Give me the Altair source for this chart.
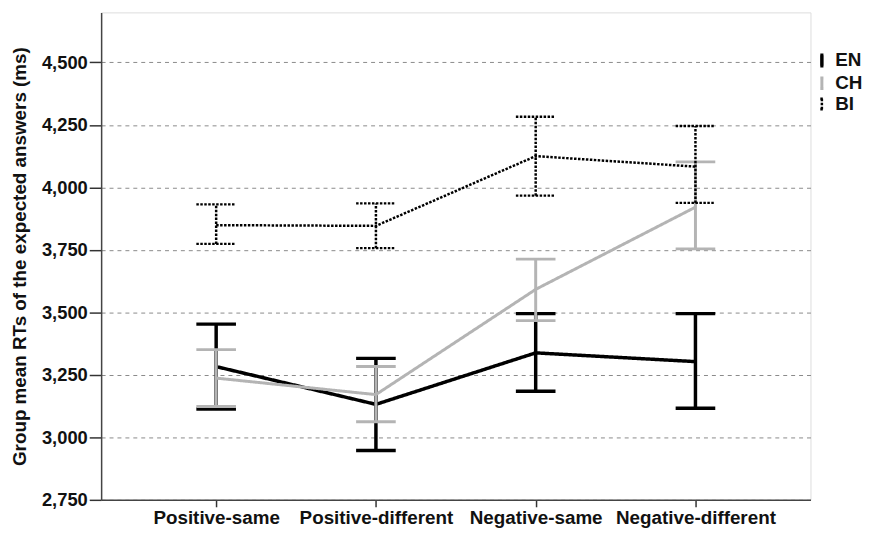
import altair as alt
import pandas as pd

conditions = ["Positive-same", "Positive-different", "Negative-same", "Negative-different"]
groups = ["EN", "CH", "BI"]

en_mean = [3283, 3132, 3338, 3303]
en_lo = [3113, 2947, 3184, 3116]
en_hi = [3453, 3316, 3495, 3495]

ch_mean = [3237, 3171, 3592, 3921]
ch_lo = [3123, 3062, 3467, 3754]
ch_hi = [3351, 3283, 3713, 4102]

bi_mean = [3849, 3846, 4125, 4083]
bi_lo = [3774, 3757, 3967, 3938]
bi_hi = [3932, 3936, 4283, 4246]

y_ticks = [2750, 3000, 3250, 3500, 3750, 4000, 4250, 4500]

series = {
    "EN": (en_mean, en_lo, en_hi),
    "CH": (ch_mean, ch_lo, ch_hi),
    "BI": (bi_mean, bi_lo, bi_hi),
}
rows = []
for g in groups:
    m, lo, hi = series[g]
    for i, c in enumerate(conditions):
        rows.append({"cond": c, "group": g, "mean": m[i], "lo": lo[i], "hi": hi[i]})
df = pd.DataFrame(rows)

FONT = "Liberation Sans"

x_enc = alt.X(
    "cond:N",
    sort=conditions,
    scale=alt.Scale(type="point", padding=0.72),
    axis=alt.Axis(title=None, labelAngle=0, labelFontSize=19, labelFontWeight="bold",
                  labelColor="#111",
                  tickSize=7, tickColor="#333", tickWidth=1.5,
                  domainColor="#444", domainWidth=1.5, labelPadding=2, grid=False),
)
y_scale = alt.Scale(domain=[2750, 4700], nice=False, zero=False)
y_axis = alt.Axis(
    title="Group mean RTs of the expected answers (ms)",
    values=y_ticks, format=",.0f", labelFontSize=18.5, labelFontWeight="bold",
    labelColor="#111",
    titleFontSize=19, titleFontWeight="bold", titleColor="#111", titlePadding=12,
    tickSize=12, tickColor="#333", tickWidth=1.5, labelPadding=2,
    domainColor="#444", domainWidth=1.5,
    grid=True, gridDash=[4, 4], gridColor="#8a8a8a", gridWidth=1,
)
color_enc = alt.Color(
    "group:N",
    scale=alt.Scale(domain=groups, range=["#000000", "#b4b4b4", "#000000"]),
    legend=alt.Legend(
        title=None, orient="none", legendX=718, legendY=39,
        symbolType="M-0.3,-1H0.3M0,-1V1M-0.3,1H0.3",
        symbolSize=110, symbolStrokeWidth=3, symbolFillColor="transparent",
        labelFontSize=19, labelFontWeight="bold", labelColor="#111",
        rowPadding=-1, labelOffset=4,
    ),
)
dash_enc = alt.StrokeDash(
    "group:N",
    scale=alt.Scale(domain=groups, range=[[1, 0], [1, 0], [2.5, 1.5]]),
    legend=alt.Legend(title=None),
)
width_enc = alt.StrokeWidth(
    "group:N",
    scale=alt.Scale(domain=groups, range=[3.5, 2.5, 3.5]),
    legend=None,
)

layers = []
for g in groups:
    base = alt.Chart(df).transform_filter(alt.datum.group == g)
    line = base.mark_line().encode(
        x=x_enc, y=alt.Y("mean:Q", scale=y_scale, axis=y_axis),
        color=color_enc, strokeDash=dash_enc, strokeWidth=width_enc,
    )
    bar = base.mark_rule().encode(
        x=x_enc, y=alt.Y("lo:Q", scale=y_scale, axis=y_axis), y2="hi:Q",
        color=color_enc, strokeDash=dash_enc, strokeWidth=width_enc,
    )
    cap_lo = base.mark_rule(xOffset=-20, x2Offset=20).encode(
        x=x_enc, x2="cond:N", y=alt.Y("lo:Q", scale=y_scale, axis=y_axis),
        color=color_enc, strokeDash=dash_enc, strokeWidth=width_enc,
    )
    cap_hi = base.mark_rule(xOffset=-20, x2Offset=20).encode(
        x=x_enc, x2="cond:N", y=alt.Y("hi:Q", scale=y_scale, axis=y_axis),
        color=color_enc, strokeDash=dash_enc, strokeWidth=width_enc,
    )
    layers += [line, bar, cap_lo, cap_hi]

chart = alt.layer(*layers).properties(
    width=716, height=492,
    autosize=alt.AutoSizeParams(type="none"),
    padding={"left": 94, "top": 2, "right": 52, "bottom": 29},
).configure_view(stroke="transparent", strokeWidth=0).configure(font=FONT)

chart.save("out.html", embed_options={"renderer": "svg", "actions": False})
